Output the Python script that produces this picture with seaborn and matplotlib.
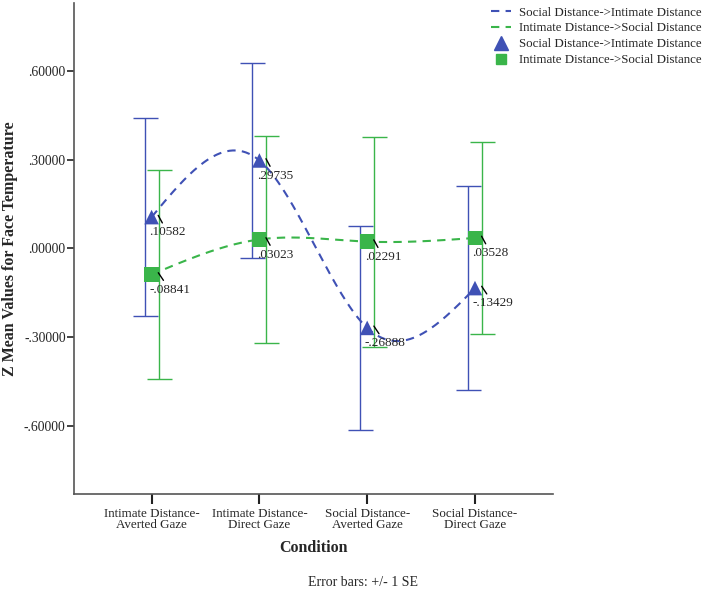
import numpy as np
import pandas as pd
import seaborn as sns
import matplotlib.pyplot as plt
from matplotlib.lines import Line2D

# Conditions on the x axis
conditions = ['Intimate Distance-\nAverted Gaze', 'Intimate Distance-\nDirect Gaze',
              'Social Distance-\nAverted Gaze', 'Social Distance-\nDirect Gaze']
groups = ['Social Distance->Intimate Distance', 'Intimate Distance->Social Distance']

# Means and standard errors
mean_social_intimate = [0.10582, 0.29735, -0.26888, -0.13429]
se_social_intimate = [0.336, 0.330, 0.345, 0.346]
mean_intimate_social = [-0.08841, 0.03023, 0.02291, 0.03528]
se_intimate_social = [0.354, 0.349, 0.355, 0.326]

yticks = [0.6, 0.3, 0.0, -0.3, -0.6]

blue = '#3F51B5'
green = '#3AB54A'


def natural_spline(x, y, xs):
    # plain natural cubic spline, like the SPSS spline interpolation line
    x = np.asarray(x, float)
    y = np.asarray(y, float)
    n = len(x)
    h = np.diff(x)
    A = np.zeros((n, n))
    b = np.zeros(n)
    A[0, 0] = A[-1, -1] = 1
    for i in range(1, n - 1):
        A[i, i - 1] = h[i - 1]
        A[i, i] = 2 * (h[i - 1] + h[i])
        A[i, i + 1] = h[i]
        b[i] = 6 * ((y[i + 1] - y[i]) / h[i] - (y[i] - y[i - 1]) / h[i - 1])
    M = np.linalg.solve(A, b)
    idx = np.clip(np.searchsorted(x, xs) - 1, 0, n - 2)
    x0, x1 = x[idx], x[idx + 1]
    hh = x1 - x0
    return (M[idx] * (x1 - xs) ** 3 / (6 * hh) + M[idx + 1] * (xs - x0) ** 3 / (6 * hh)
            + (y[idx] / hh - M[idx] * hh / 6) * (x1 - xs)
            + (y[idx + 1] / hh - M[idx + 1] * hh / 6) * (xs - x0))


pos = np.arange(len(conditions))
xs = np.linspace(0, len(conditions) - 1, 200)

curves = pd.concat([
    pd.DataFrame({'x': xs, 'y': natural_spline(pos, mean_social_intimate, xs), 'group': groups[0]}),
    pd.DataFrame({'x': xs, 'y': natural_spline(pos, mean_intimate_social, xs), 'group': groups[1]}),
])
points = pd.DataFrame({
    'x': np.concatenate([pos, pos]),
    'y': mean_social_intimate + mean_intimate_social,
    'group': [groups[0]] * 4 + [groups[1]] * 4,
})

sns.set_style('ticks')
plt.rcParams['font.family'] = ['Liberation Serif', 'DejaVu Serif']

fig = plt.figure(figsize=(7.08, 5.9), dpi=100)
ax = fig.add_axes([0.1045, 0.163, 0.676, 0.832])

# dashed spline curves first, so only these get the dashes
sns.lineplot(data=curves, x='x', y='y', hue='group', palette=[blue, green],
             ax=ax, legend=False, linewidth=1.5, zorder=3)
for line in ax.get_lines():
    line.set_dashes([4, 3])

# error bars, slightly offset left/right like SPSS
off = 0.065
ax.errorbar(pos - off, mean_social_intimate, yerr=se_social_intimate, fmt='none',
            ecolor=blue, elinewidth=1.0, capsize=9, capthick=1.0, zorder=2)
ax.errorbar(pos + off, mean_intimate_social, yerr=se_intimate_social, fmt='none',
            ecolor=green, elinewidth=1.0, capsize=9, capthick=1.0, zorder=2)

sns.scatterplot(data=points, x='x', y='y', hue='group', style='group',
                markers=['^', 's'], palette=[blue, green], s=[110], ax=ax,
                legend=False, edgecolor='none', zorder=4)

# value labels with small leader lines from the marker edge
for vals in (mean_social_intimate, mean_intimate_social):
    for xi, v in zip(pos, vals):
        lab = ('%.5f' % v).replace('0.', '.')
        ax.annotate(lab, xy=(xi + 0.055, v + 0.01), xytext=(-6, -13), textcoords='offset points',
                    ha='left', va='center', fontsize=9.5,
                    arrowprops=dict(arrowstyle='-', color='black', lw=1.0,
                                    shrinkA=0, shrinkB=1), zorder=5)

ax.set_xlim(-0.72, 3.72)
ax.set_ylim(-0.83, 0.83)
ax.set_xticks(pos)
ax.set_xticklabels(conditions, fontsize=9.4, linespacing=0.95)
ax.set_yticks(yticks)
ax.set_yticklabels([('%.5f' % t).replace('0.', '.') for t in yticks], fontsize=9.8)
ax.tick_params(axis='x', length=7, width=1.5, color='#222222', pad=3)
ax.tick_params(axis='y', length=5, width=1.2, color='#222222', pad=1)
for s in ('top', 'right'):
    ax.spines[s].set_visible(False)
for s in ('left', 'bottom'):
    ax.spines[s].set_color('#555555')
    ax.spines[s].set_linewidth(1.2)

ax.set_xlabel('Condition', fontsize=11.5, fontweight='bold', labelpad=6)
ax.set_ylabel('Z Mean Values for Face Temperature', fontsize=11.5, fontweight='bold', labelpad=4)

fig.text(363 / 708, 1 - 583 / 590, 'Error bars: +/- 1 SE', ha='center', va='center', fontsize=10)

handles = [
    Line2D([], [], color=blue, linestyle=(0, (4, 3)), lw=1.5),
    Line2D([], [], color=green, linestyle=(0, (4, 3)), lw=1.5),
    Line2D([], [], color=blue, marker='^', linestyle='none', markersize=10),
    Line2D([], [], color=green, marker='s', linestyle='none', markersize=7),
]
fig.legend(handles, groups + groups, loc='upper right', bbox_to_anchor=(1.0, 1.0),
           frameon=False, fontsize=9.3, handlelength=1.6, handletextpad=0.6,
           labelspacing=0.3, borderaxespad=0.1)

fig.savefig('out.png', dpi=100)
